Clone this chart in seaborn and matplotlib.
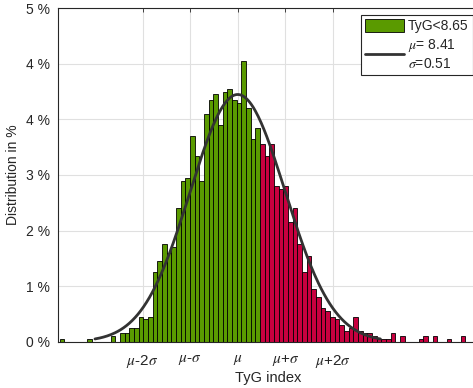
import numpy as np
import pandas as pd
import matplotlib
matplotlib.use('Agg')
import matplotlib.pyplot as plt
import seaborn as sns
from matplotlib.patches import Patch
from matplotlib.lines import Line2D

# ---- data ----
bin_start = 6.50
bin_width = 0.05
counts = [1, 0, 0, 0, 0, 0, 1, 0, 0, 0,
          0, 2, 0, 3, 3, 5, 5, 9, 8, 9,
          25, 29, 35, 32, 34, 48, 58, 59, 74, 67,
          58, 82, 87, 89, 78, 90, 91, 87, 86, 101,
          84, 73, 77, 71, 67, 71, 56, 55, 56, 43,
          48, 35, 25, 31, 19, 16, 12, 11, 9, 8,
          6, 4, 5, 9, 4, 3, 3, 2, 1, 1,
          1, 3, 0, 2, 0, 0, 0, 1, 2, 0,
          2, 0, 0, 1, 0, 0, 2]
cutoff = 8.65
mu = 8.41
sigma = 0.51
legend_labels = ['TyG<8.65', r'$\mu$= 8.41' + '\n' + r'$\sigma$=0.51']
xtick_mult = [-2, -1, 0, 1, 2]
xtick_labels = [r'$\mu$-2$\sigma$', r'$\mu$-$\sigma$', r'$\mu$', r'$\mu$+$\sigma$', r'$\mu$+2$\sigma$']
ytick_counts = [0, 20, 40, 60, 80, 100, 120]
ytick_labels = ['0 %', '1 %', '2 %', '3 %', '4 %', '4 %', '5 %']

green = '#5a9a00'
red = '#c8003f'
curve_color = '#333333'
dark = '#262626'

sns.set_theme(style='white')
plt.rcParams['font.family'] = ['Liberation Sans', 'DejaVu Sans']
plt.rcParams['mathtext.fontset'] = 'stix'

nbins = len(counts)
centers = bin_start + bin_width * (np.arange(nbins) + 0.5)
df = pd.DataFrame({'x': centers, 'count': counts,
                   'group': np.where(centers < cutoff, 'low', 'high')})
N = float(np.sum(counts))

W, H = 473, 388
fig = plt.figure(figsize=(W / 100, H / 100), dpi=100)
ax = fig.add_axes([58.3 / W, 1 - 341.7 / H, (478 - 58.3) / W, (341.7 - 8.3) / H])

sns.histplot(data=df, x='x', weights='count', hue='group',
             binwidth=bin_width, binrange=(bin_start, bin_start + nbins * bin_width),
             palette={'low': green, 'high': red}, alpha=1, multiple='layer',
             edgecolor='black', linewidth=0.6, legend=False, ax=ax)

xc = np.linspace(mu - 3 * sigma, mu + 3 * sigma, 300)
yc = N * bin_width * np.exp(-0.5 * ((xc - mu) / sigma) ** 2) / (sigma * np.sqrt(2 * np.pi))
sns.lineplot(x=xc, y=yc, color=curve_color, lw=2, ax=ax)

ax.set_xlim(6.487, 10.986)
ax.set_ylim(0, 120)
ax.set_xticks([mu + k * sigma for k in xtick_mult])
ax.set_xticklabels(xtick_labels)
ax.set_yticks(ytick_counts)
ax.set_yticklabels(ytick_labels)
ax.tick_params(direction='in', top=True, right=True, length=3, width=0.6,
               colors=dark, labelsize=10, pad=6)
ax.tick_params(axis='x', pad=8, labelsize=11)
ax.grid(True, color='#e0e0e0', lw=0.8)
ax.set_axisbelow(True)
for s in ax.spines.values():
    s.set_color(dark)
    s.set_linewidth(0.8)
    s.set_visible(True)

ax.set_xlabel('TyG index', fontsize=10.5, color=dark, labelpad=1)
ax.set_ylabel('Distribution in %', fontsize=10, color=dark, labelpad=4)

handles = [Patch(facecolor=green, edgecolor='black', lw=0.6),
           Line2D([], [], color=curve_color, lw=2)]
leg = fig.legend(handles, legend_labels, loc='upper left',
                 bbox_to_anchor=(361 / W, 1 - 15 / H), frameon=True, fancybox=False,
                 edgecolor=dark, framealpha=1, fontsize=10, handlelength=2.8,
                 handleheight=1.0, borderpad=0.3, labelspacing=0.3, handletextpad=0.3,
                 borderaxespad=0)
leg.get_frame().set_linewidth(0.8)

fig.savefig('out.png', dpi=100)
